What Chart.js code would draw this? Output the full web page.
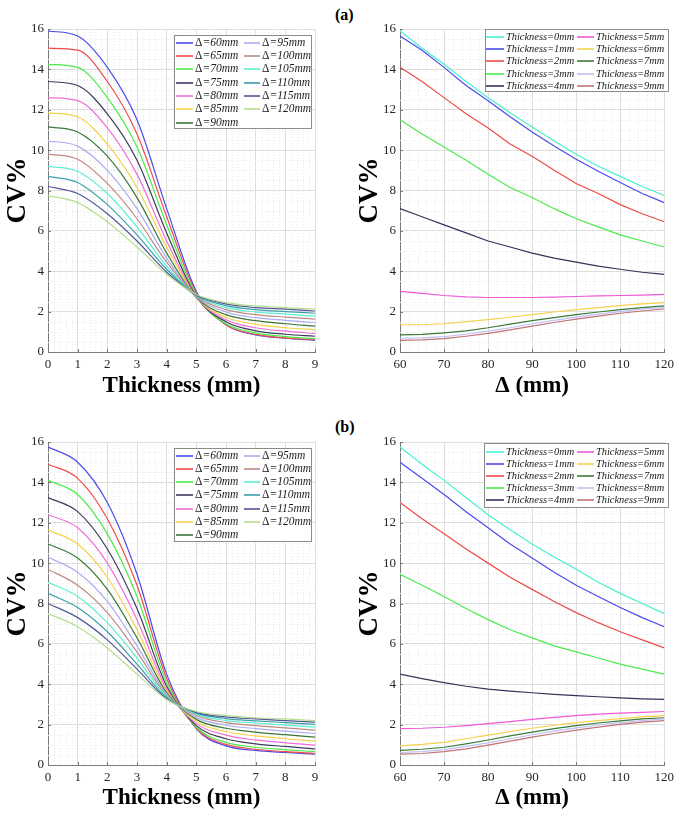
<!DOCTYPE html>
<html>
<head>
<meta charset="utf-8">
<script src="https://cdn.jsdelivr.net/npm/chart.js@4.4.1/dist/chart.umd.min.js"></script>
<style>
  body { margin: 0; background: #fff; width: 679px; height: 814px; position: relative; overflow: hidden; }
  canvas { position: absolute; }
  .tag { position: absolute; font: bold 16px "Liberation Serif", "Times New Roman", serif; line-height: 18px; color: #000; }
</style>
</head>
<body>
<div class="tag" style="left:335px; top:6px;">(a)</div>
<div class="tag" style="left:335px; top:418px;">(b)</div>
<canvas id="tl"></canvas>
<canvas id="tr"></canvas>
<canvas id="bl"></canvas>
<canvas id="br"></canvas>
<script>
// Δ values (mm) and thickness values (mm)
const deltas = [60, 65, 70, 75, 80, 85, 90, 95, 100, 105, 110, 115, 120];
const thicknesses = [0, 1, 2, 3, 4, 5, 6, 7, 8, 9];

// CV% for case (a): one row per thickness, columns follow deltas
const cvA0 = [15.9, 15.05, 14.25, 13.4, 12.6, 11.85, 11.15, 10.45, 9.8, 9.2, 8.7, 8.2, 7.75];
const cvA1 = [15.65, 14.95, 14.1, 13.2, 12.45, 11.65, 10.9, 10.2, 9.55, 8.95, 8.4, 7.85, 7.4];
const cvA2 = [14.1, 13.4, 12.6, 11.8, 11.1, 10.3, 9.7, 9.0, 8.35, 7.85, 7.3, 6.85, 6.45];
const cvA3 = [11.5, 10.8, 10.15, 9.5, 8.8, 8.15, 7.65, 7.1, 6.6, 6.2, 5.8, 5.5, 5.2];
const cvA4 = [7.1, 6.7, 6.3, 5.9, 5.5, 5.2, 4.9, 4.65, 4.45, 4.25, 4.1, 3.95, 3.85];
const cvA5 = [3.0, 2.9, 2.8, 2.73, 2.7, 2.7, 2.7, 2.72, 2.75, 2.78, 2.8, 2.82, 2.85];
const cvA6 = [1.35, 1.35, 1.4, 1.5, 1.6, 1.72, 1.85, 1.98, 2.1, 2.2, 2.3, 2.38, 2.45];
const cvA7 = [0.85, 0.87, 0.95, 1.05, 1.2, 1.38, 1.55, 1.7, 1.85, 1.98, 2.1, 2.2, 2.28];
const cvA8 = [0.68, 0.7, 0.76, 0.88, 1.03, 1.2, 1.4, 1.57, 1.73, 1.88, 2.0, 2.12, 2.2];
const cvA9 = [0.58, 0.6, 0.66, 0.78, 0.92, 1.1, 1.28, 1.46, 1.63, 1.78, 1.92, 2.03, 2.13];

// CV% for case (b)
const cvB0 = [15.75, 14.9, 14.1, 13.25, 12.4, 11.65, 10.95, 10.3, 9.7, 9.05, 8.5, 8.0, 7.5];
const cvB1 = [15.0, 14.2, 13.4, 12.55, 11.75, 10.95, 10.25, 9.55, 8.9, 8.35, 7.8, 7.3, 6.85];
const cvB2 = [13.0, 12.2, 11.45, 10.7, 10.0, 9.3, 8.7, 8.1, 7.55, 7.05, 6.6, 6.2, 5.8];
const cvB3 = [9.45, 8.9, 8.35, 7.75, 7.2, 6.7, 6.3, 5.9, 5.6, 5.3, 5.0, 4.75, 4.5];
const cvB4 = [4.5, 4.28, 4.08, 3.9, 3.76, 3.66, 3.58, 3.5, 3.44, 3.38, 3.33, 3.28, 3.25];
const cvB5 = [1.8, 1.82, 1.87, 1.95, 2.05, 2.15, 2.26, 2.36, 2.45, 2.52, 2.57, 2.61, 2.65];
const cvB6 = [0.95, 1.02, 1.12, 1.3, 1.48, 1.66, 1.82, 1.97, 2.1, 2.2, 2.3, 2.38, 2.45];
const cvB7 = [0.72, 0.78, 0.88, 1.05, 1.24, 1.44, 1.63, 1.8, 1.95, 2.08, 2.19, 2.28, 2.34];
const cvB8 = [0.62, 0.66, 0.76, 0.92, 1.1, 1.3, 1.5, 1.68, 1.84, 1.98, 2.1, 2.2, 2.28];
const cvB9 = [0.54, 0.57, 0.66, 0.8, 0.98, 1.18, 1.38, 1.56, 1.73, 1.88, 2.01, 2.12, 2.2];

const cvA = [cvA0, cvA1, cvA2, cvA3, cvA4, cvA5, cvA6, cvA7, cvA8, cvA9];
const cvB = [cvB0, cvB1, cvB2, cvB3, cvB4, cvB5, cvB6, cvB7, cvB8, cvB9];

const yTicks = [0, 2, 4, 6, 8, 10, 12, 14, 16];

const deltaColors = ['#4b4bea', '#ee4b4b', '#4beb4b', '#3b3b5c', '#f070d8', '#f5d24a', '#3a773a',
                     '#acacf2', '#c08a84', '#5cf0d0', '#3aa0a8', '#55559a', '#b4e08c'];
const thickColors = ['#46f0d2', '#4b4bea', '#ee4b4b', '#4beb4b', '#34345a', '#f05ad6', '#f5d24a',
                     '#3a7a3a', '#bfc0f5', '#c07474'];

const SERIF = '"Liberation Serif", "Times New Roman", serif';
Chart.defaults.font.family = SERIF;

// dotted minor grid like MATLAB "grid minor"
const minorGrid = {
    id: 'minorGrid',
    beforeDatasetsDraw(chart, args, o) {
        const { ctx, chartArea: a, scales: { x, y } } = chart;
        ctx.save();
        ctx.strokeStyle = '#eaeaea';
        ctx.lineWidth = 1;
        ctx.setLineDash([1, 2]);
        ctx.beginPath();
        for (let k = 1; x.min + k * o.xStep < x.max - 1e-9; k++) {
            if (k % o.xDiv === 0) continue;
            const px = Math.round(x.getPixelForValue(x.min + k * o.xStep)) + 0.5;
            ctx.moveTo(px, a.top); ctx.lineTo(px, a.bottom);
        }
        for (let k = 1; y.min + k * o.yStep < y.max - 1e-9; k++) {
            if (k % o.yDiv === 0) continue;
            const py = Math.round(y.getPixelForValue(y.min + k * o.yStep)) + 0.5;
            ctx.moveTo(a.left, py); ctx.lineTo(a.right, py);
        }
        ctx.stroke();
        ctx.restore();
    }
};

// inward tick marks
const innerTicks = {
    id: 'innerTicks',
    afterDatasetsDraw(chart) {
        const { ctx, chartArea: a, scales: { x, y } } = chart;
        ctx.save();
        ctx.strokeStyle = '#777';
        ctx.lineWidth = 1;
        ctx.beginPath();
        x.ticks.forEach(t => {
            const px = Math.round(x.getPixelForValue(t.value)) + 0.5;
            ctx.moveTo(px, a.bottom); ctx.lineTo(px, a.bottom - 3);
        });
        y.ticks.forEach(t => {
            const py = Math.round(y.getPixelForValue(t.value)) + 0.5;
            ctx.moveTo(a.left, py); ctx.lineTo(a.left + 3, py);
        });
        ctx.stroke();
        ctx.restore();
    }
};

// legend box drawn inside the plot
const boxLegend = {
    id: 'boxLegend',
    afterDraw(chart, args, o) {
        const ctx = chart.ctx;
        const [bx, by, bw, bh] = o.box;
        ctx.save();
        ctx.fillStyle = '#fff';
        ctx.fillRect(bx, by, bw, bh);
        ctx.strokeStyle = '#8c8c8c';
        ctx.lineWidth = 1;
        ctx.strokeRect(Math.round(bx) + 0.5, Math.round(by) + 0.5, Math.round(bw), Math.round(bh));
        ctx.textBaseline = 'middle';
        chart.data.datasets.forEach((ds, i) => {
            const col = o.cols[Math.floor(i / o.rows)];
            const y = Math.round(o.firstRow + (i % o.rows) * o.rowH);
            ctx.strokeStyle = deltaOrThick(ds);
            ctx.lineWidth = 1.6;
            ctx.beginPath();
            ctx.moveTo(col[0], y); ctx.lineTo(col[1], y);
            ctx.stroke();
            ctx.fillStyle = '#1a1a1a';
            let tx = col[2];
            let text = ds.label;
            if (text.startsWith('Δ')) {
                ctx.font = o.size + 'px ' + SERIF;
                ctx.fillText('Δ', tx, y);
                tx += ctx.measureText('Δ').width;
                text = text.slice(1);
            }
            ctx.font = 'italic ' + o.size + 'px ' + SERIF;
            ctx.fillText(text, tx, y);
        });
        ctx.restore();
    }
};

// colour of a dataset, taken from the palettes above
function deltaOrThick(ds) {
    return ds.label.startsWith('Δ') ? deltaColors[ds.idx] : thickColors[ds.idx];
}

function makePanel(id, pos, datasets, xs, legend) {
    const canvas = document.getElementById(id);
    canvas.width = pos.w;
    canvas.height = pos.h;
    canvas.style.left = pos.left + 'px';
    canvas.style.top = pos.top + 'px';
    // legend coordinates are given in page pixels
    const lg = {
        box: [legend.box[0] - pos.left, legend.box[1] - pos.top, legend.box[2], legend.box[3]],
        cols: legend.cols.map(c => c.map(v => v - pos.left)),
        firstRow: legend.firstRow - pos.top,
        rowH: legend.rowH, rows: legend.rows, size: legend.size
    };
    return new Chart(canvas, {
        type: 'line',
        data: { datasets },
        options: {
            responsive: false,
            animation: false,
            events: [],
            layout: { padding: pos.pad },
            elements: { point: { radius: 0 }, line: { borderWidth: 1.2 } },
            plugins: {
                legend: { display: false },
                tooltip: { enabled: false },
                minorGrid: { xStep: xs.minor, xDiv: xs.div, yStep: 0.5, yDiv: 4 },
                boxLegend: lg
            },
            scales: {
                x: {
                    type: 'linear', min: xs.min, max: xs.max,
                    ticks: { stepSize: xs.step, color: '#262626', font: { size: 13 }, padding: 5 },
                    grid: { color: '#dedede', drawTicks: false },
                    border: { display: true, color: '#7a7a7a' },
                    title: { display: true, text: xs.title, color: '#000',
                             font: { size: 23, weight: 'bold' }, padding: { top: 0, bottom: pos.titlePad } },
                    afterFit: s => { s.height = pos.xh; }
                },
                y: {
                    type: 'linear', min: 0, max: 16,
                    afterBuildTicks: s => { s.ticks = yTicks.map(v => ({ value: v })); },
                    ticks: { color: '#262626', font: { size: 13 }, padding: 4 },
                    grid: { color: '#dedede', drawTicks: false },
                    border: { display: true, color: '#7a7a7a' },
                    title: { display: true, text: 'CV%', color: '#000',
                             font: { size: 27, weight: 'bold' }, padding: { top: 2, bottom: 0 } },
                    afterFit: s => { s.width = 48; }
                }
            }
        },
        plugins: [minorGrid, innerTicks, boxLegend]
    });
}

// curves vs thickness, one per Δ
function deltaSets(cv) {
    return deltas.map((d, j) => ({
        label: 'Δ=' + d + 'mm',
        idx: j,
        data: thicknesses.map((t, i) => ({ x: t, y: cv[i][j] })),
        borderColor: deltaColors[j],
        cubicInterpolationMode: 'monotone',
        order: -j
    }));
}

// curves vs Δ, one per thickness
function thickSets(cv) {
    return thicknesses.map((t, i) => ({
        label: 'Thickness=' + t + 'mm',
        idx: i,
        data: deltas.map((d, j) => ({ x: d, y: cv[i][j] })),
        borderColor: thickColors[i],
        tension: 0,
        order: -i
    }));
}

const xThick = { min: 0, max: 9, step: 1, minor: 0.2, div: 5, title: 'Thickness (mm)' };
const xDelta = { min: 60, max: 120, step: 10, minor: 2, div: 5, title: 'Δ (mm)' };

const colsDelta = [[176, 193, 195], [244, 260, 262]];
const colsThick = [[486, 504, 506], [577, 594, 596]];

makePanel('tl', { left: 0, top: 0, w: 340, h: 400, xh: 48, titlePad: 0,
                  pad: { top: 29, right: 25, left: 0, bottom: 0 } },
    deltaSets(cvA), xThick,
    { box: [174, 35, 137, 93], cols: colsDelta, firstRow: 42.7, rowH: 13.3, rows: 7, size: 11.5 });

makePanel('tr', { left: 340, top: 0, w: 339, h: 400, xh: 48, titlePad: 0,
                  pad: { top: 29, right: 11, left: 12, bottom: 0 } },
    thickSets(cvA), xDelta,
    { box: [485, 29, 183, 62], cols: colsThick, firstRow: 36.7, rowH: 12.35, rows: 5, size: 10.4 });

makePanel('bl', { left: 0, top: 400, w: 340, h: 414, xh: 49, titlePad: 2,
                  pad: { top: 42, right: 25, left: 0, bottom: 0 } },
    deltaSets(cvB), xThick,
    { box: [174, 448, 137, 93], cols: colsDelta, firstRow: 455.7, rowH: 13.25, rows: 7, size: 11.5 });

makePanel('br', { left: 340, top: 400, w: 339, h: 414, xh: 49, titlePad: 2,
                  pad: { top: 42, right: 11, left: 12, bottom: 0 } },
    thickSets(cvB), xDelta,
    { box: [484, 443, 184, 64], cols: colsThick, firstRow: 451.7, rowH: 12.1, rows: 5, size: 10.4 });
</script>
</body>
</html>
